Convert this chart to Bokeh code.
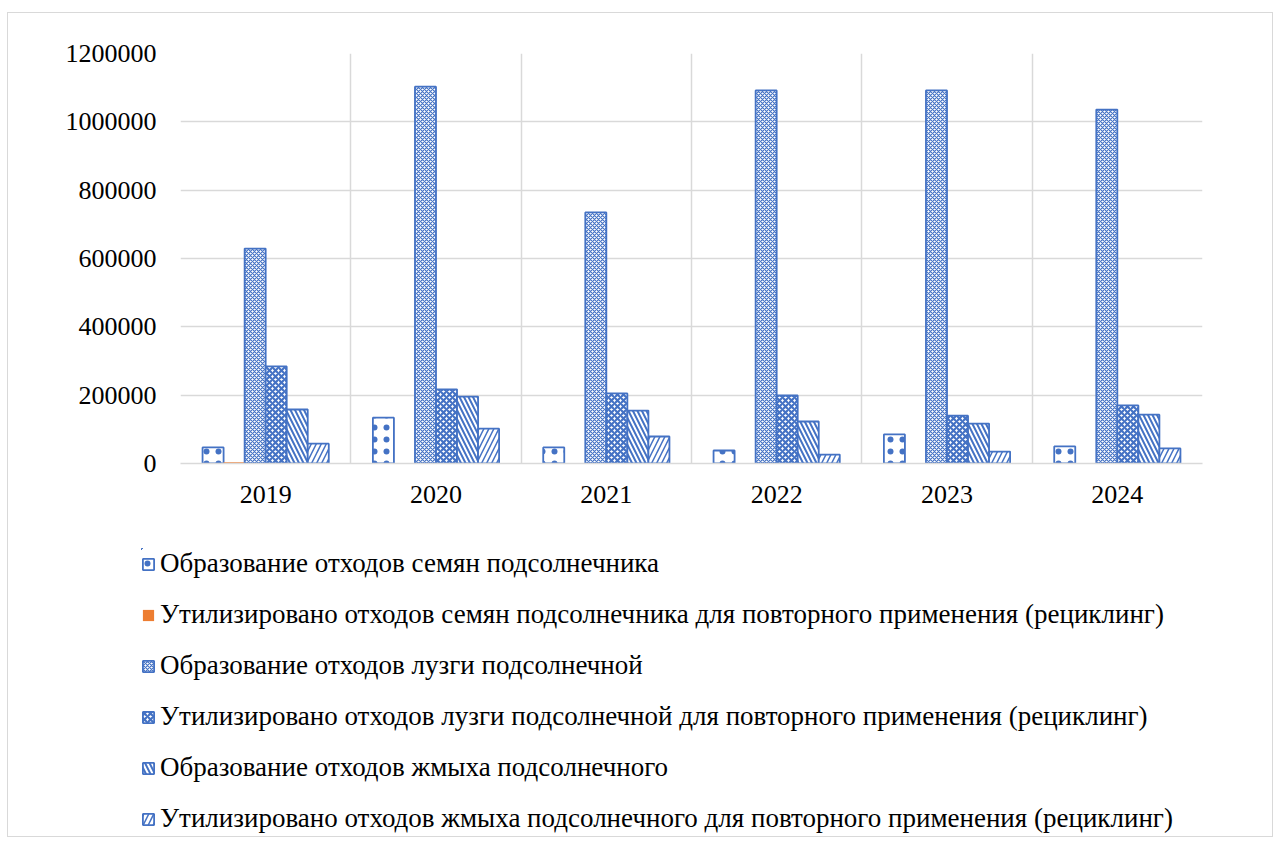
from bokeh.plotting import figure
from bokeh.layouts import column
from bokeh.models import ColumnDataSource, Range1d, FixedTicker, NumeralTickFormatter, Legend, LegendItem
from bokeh.embed import file_html
from bokeh.resources import INLINE

years = ["2019", "2020", "2021", "2022", "2023", "2024"]
seed_formed = [47000, 134000, 47000, 38000, 85000, 50000]
seed_recycled = [4000, 0, 0, 0, 0, 0]
husk_formed = [629000, 1103000, 735000, 1092000, 1092000, 1036000]
husk_recycled = [284000, 217000, 205000, 199000, 140000, 170000]
cake_formed = [158000, 196000, 155000, 123000, 117000, 143000]
cake_recycled = [58000, 102000, 79000, 26000, 35000, 44000]

series_labels = [
    "Образование отходов семян подсолнечника",
    "Утилизировано отходов семян подсолнечника для повторного применения (рециклинг)",
    "Образование отходов лузги подсолнечной",
    "Утилизировано отходов лузги подсолнечной для повторного применения (рециклинг)",
    "Образование отходов жмыха подсолнечного",
    "Утилизировано отходов жмыха подсолнечного для повторного применения (рециклинг)",
]
series_values = [seed_formed, seed_recycled, husk_formed, husk_recycled, cake_formed, cake_recycled]

BLUE = "#4472C4"
styles = [
    dict(fill_color="white", line_color=BLUE, hatch_pattern="dot", hatch_color=BLUE, hatch_scale=12, hatch_weight=0.5),
    dict(fill_color="#ED7D31", line_color=None),
    dict(fill_color="white", line_color=BLUE, hatch_pattern="diagonal_cross", hatch_color=BLUE, hatch_scale=4, hatch_weight=1.2),
    dict(fill_color="white", line_color=BLUE, hatch_pattern="diagonal_cross", hatch_color=BLUE, hatch_scale=6, hatch_weight=2.2),
    dict(fill_color="white", line_color=BLUE, hatch_pattern="left_diagonal_line", hatch_color=BLUE, hatch_scale=9, hatch_weight=2),
    dict(fill_color="white", line_color=BLUE, hatch_pattern="right_diagonal_line", hatch_color=BLUE, hatch_scale=10, hatch_weight=1.5),
]

left_b, right_b, top_b, bottom_b = 172, 70, 40, 50
frame_w, frame_h = 1022, 410

p = figure(output_backend="svg", toolbar_location=None,
           x_range=Range1d(0, len(years)), y_range=Range1d(0, 1200000),
           min_border_left=left_b, min_border_right=right_b,
           min_border_top=top_b, min_border_bottom=bottom_b)
p.frame_width = frame_w
p.frame_height = frame_h
p.frame_align = False
p.outline_line_color = None

bw = 0.1235
centers = [i + 0.5 for i in range(len(years))]
sources = []
for k, (lab, vals, st) in enumerate(zip(series_labels, series_values, styles)):
    xs = [c + (k - 2.5) * bw for c in centers]
    src = ColumnDataSource(dict(x=xs, top=vals))
    sources.append(src)
    p.vbar(x="x", top="top", bottom=0, width=bw, source=src, line_width=1.8, **st)

# axes
p.xaxis.ticker = FixedTicker(ticks=centers)
p.xaxis.major_label_overrides = {c: y for c, y in zip(centers, years)}
p.xaxis.major_tick_line_color = None
p.xaxis.minor_tick_line_color = None
p.xaxis.axis_line_color = "#d9d9d9"
p.xaxis.axis_line_width = 1.5
p.xaxis.major_label_standoff = 16
p.yaxis.ticker = FixedTicker(ticks=[0, 200000, 400000, 600000, 800000, 1000000, 1200000])
p.yaxis.formatter = NumeralTickFormatter(format="0")
p.yaxis.axis_line_color = None
p.yaxis.major_tick_line_color = None
p.yaxis.minor_tick_line_color = None
p.yaxis.major_label_standoff = 18
for ax in (p.xaxis, p.yaxis):
    ax.major_label_text_font = "Liberation Serif"
    ax.major_label_text_font_size = "26px"
    ax.major_label_text_color = "black"

p.xgrid.ticker = FixedTicker(ticks=list(range(len(years) + 1)))
p.xgrid.grid_line_color = "#d9d9d9"
p.xgrid.grid_line_width = 1.5
p.ygrid.grid_line_color = "#d9d9d9"
p.ygrid.grid_line_width = 1.5

# legend panel: second figure showing the same series (bars kept outside its visible range)
lg = figure(width=left_b + frame_w + right_b, height=323, output_backend="svg", toolbar_location=None,
            x_axis_location=None, y_axis_location=None,
            x_range=Range1d(100, 101), y_range=Range1d(-20, -19),
            min_border_left=133, min_border_top=35, min_border_right=0, min_border_bottom=0)
lg.frame_align = False
lg.outline_line_color = None
lg.grid.visible = False
items = []
for lab, st, src in zip(series_labels, styles, sources):
    r = lg.vbar(x="x", top="top", bottom=0, width=bw, source=src, line_width=1.8, **st)
    items.append(LegendItem(label=lab, renderers=[r]))
legend = Legend(items=items, location="top_left", orientation="vertical",
                label_text_font="Liberation Serif", label_text_font_size="27px",
                label_text_color="black", glyph_width=14, glyph_height=14,
                spacing=20, label_standoff=5, padding=0, margin=0,
                border_line_color=None, background_fill_alpha=0)
lg.add_layout(legend, "center")

layout = column(p, lg, spacing=0,
                styles={"border": "1px solid #d9d9d9", "margin-top": "12px", "margin-left": "7px"})

open("out.html", "w").write(file_html(layout, INLINE))
